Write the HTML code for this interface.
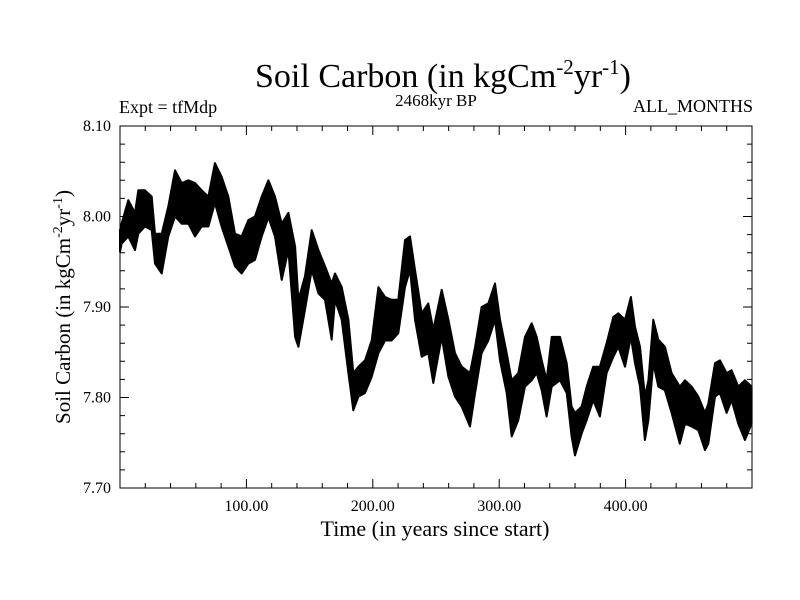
<!DOCTYPE html>
<html><head><meta charset="utf-8"><style>
body{margin:0;background:#fff}
svg{display:block;font-family:"Liberation Serif",serif}
</style></head><body>
<svg id="chart" width="800" height="600" viewBox="0 0 800 600">
<rect width="800" height="600" fill="#fff"/>
<text x="443" y="87" font-size="34" text-anchor="middle">Soil Carbon (in kgCm<tspan font-size="21" dy="-13">-2</tspan><tspan dy="13">yr</tspan><tspan font-size="21" dy="-13">-1</tspan><tspan dy="13">)</tspan></text>
<text x="119" y="113" font-size="18">Expt = tfMdp</text>
<text x="436" y="106" font-size="17" text-anchor="middle">2468kyr BP</text>
<text x="753" y="112" font-size="18" text-anchor="end">ALL_MONTHS</text>
<text x="435" y="536" font-size="22" text-anchor="middle">Time (in years since start)</text>
<text transform="translate(70,307) rotate(-90)" font-size="21" text-anchor="middle">Soil Carbon (in kgCm<tspan font-size="14" dy="-8">-2</tspan><tspan dy="8">yr</tspan><tspan font-size="14" dy="-8">-1</tspan><tspan dy="8">)</tspan></text>
<g id="ticks"></g>
<g id="series"></g>
<rect x="120" y="126" width="632" height="362" fill="none" stroke="#000" stroke-width="1"/>
</svg>
<script>
const years=[0,1.3,6.6,11.9,14.5,19.8,25.1,27.7,33,38.2,43.5,48.8,54.1,59.3,64.6,69.9,75.1,80.4,85.7,91,96.2,101.5,106.8,112.1,117.4,122.6,127.9,133.2,138.5,141.1,146.4,151.7,157,162.2,167.5,170.1,175.4,180.7,184.6,188.6,193.8,199.1,204.4,209.7,214.9,220.2,225.5,229.4,233.4,238.7,243.9,247.9,254.5,259.8,265,270.3,276.9,280.9,286.1,291.4,296.7,300.6,305.9,309.9,315.1,320.4,325.7,329.7,333.6,337.5,341.5,348.1,353.4,357.3,360,365.2,369.2,374.4,379.7,385,390.3,394.2,399.5,404.2,407.4,411.4,415.3,418,421.9,425.9,431.1,436.4,442.9,447,452.2,457.5,462.8,465.4,470.7,474.7,479.9,483.9,489.2,494.4,499.7];
const lowVals=[7.961,7.970,7.978,7.963,7.981,7.989,7.985,7.948,7.937,7.978,8.000,7.992,7.992,7.978,7.989,7.989,8.015,7.989,7.967,7.945,7.937,7.948,7.952,7.978,7.999,7.978,7.930,7.963,7.867,7.856,7.897,7.941,7.915,7.908,7.864,7.908,7.886,7.827,7.786,7.801,7.805,7.823,7.849,7.863,7.863,7.871,7.922,7.941,7.886,7.845,7.849,7.816,7.867,7.823,7.801,7.790,7.768,7.805,7.849,7.863,7.886,7.841,7.805,7.757,7.775,7.812,7.819,7.827,7.808,7.779,7.812,7.819,7.805,7.757,7.736,7.760,7.775,7.797,7.779,7.827,7.845,7.856,7.834,7.867,7.838,7.812,7.753,7.775,7.838,7.812,7.808,7.783,7.749,7.771,7.768,7.764,7.742,7.749,7.801,7.805,7.783,7.797,7.771,7.753,7.771];
const highVals=[7.985,7.992,8.018,8.004,8.029,8.029,8.022,7.981,7.981,8.011,8.051,8.037,8.040,8.037,8.029,8.022,8.059,8.044,8.022,7.981,7.978,7.996,8.000,8.022,8.040,8.022,7.992,8.004,7.967,7.908,7.934,7.985,7.963,7.945,7.926,7.937,7.922,7.886,7.827,7.834,7.841,7.863,7.922,7.911,7.908,7.908,7.974,7.978,7.941,7.893,7.904,7.875,7.919,7.886,7.849,7.834,7.827,7.856,7.900,7.904,7.926,7.886,7.849,7.819,7.827,7.867,7.882,7.867,7.841,7.819,7.867,7.867,7.838,7.790,7.783,7.790,7.812,7.834,7.834,7.860,7.889,7.893,7.886,7.911,7.878,7.856,7.801,7.819,7.886,7.864,7.856,7.827,7.812,7.819,7.812,7.801,7.783,7.793,7.838,7.841,7.827,7.830,7.812,7.819,7.812];
const yTickLabels=["7.70","7.80","7.90","8.00","8.10"];
const xTickLabels=["100.00","200.00","300.00","400.00"];

const X0=120,X1=752,Y0=488,Y1=126;
const xS=v=>X0+(v-0)/(500-0)*(X1-X0);
const yS=v=>Y0-(v-7.70)/(8.10-7.70)*(Y0-Y1);
const NS="http://www.w3.org/2000/svg";
const tg=document.getElementById('ticks');
function mk(tag,attrs,parent){const e=document.createElementNS(NS,tag);for(const k in attrs)e.setAttribute(k,attrs[k]);parent.appendChild(e);return e;}
let d="";
for(let i=0;i<=20;i++){const v=7.70+i*0.02,y=yS(v),L=i%5===0?9:5;
 d+=`M${X0} ${y}h${L}M${X1} ${y}h${-L}`;}
for(let i=0;i<=25;i++){const v=i*20,x=xS(v),L=i%5===0?9:5;
 d+=`M${x} ${Y0}v${-L}M${x} ${Y1}v${L}`;}
const tp=mk('path',{d:d,stroke:'#000','stroke-width':1,fill:'none'},tg);


yTickLabels.forEach(s=>{const t=mk('text',{x:111,y:yS(parseFloat(s))+5,'font-size':16,'text-anchor':'end'},tg);t.textContent=s;
 
 });
xTickLabels.forEach(s=>{const t=mk('text',{x:xS(parseFloat(s)),y:511,'font-size':16,'text-anchor':'middle'},tg);t.textContent=s;
 
 });
const sg=document.getElementById('series');
let pts=years.map((yr,i)=>`${xS(yr).toFixed(1)},${yS(highVals[i]).toFixed(1)}`);
for(let i=years.length-1;i>=0;i--)pts.push(`${xS(years[i]).toFixed(1)},${yS(lowVals[i]).toFixed(1)}`);
const band=mk('polygon',{points:pts.join(' '),fill:'#000',stroke:'#000','stroke-width':2,'stroke-linejoin':'round'},sg);


</script>
</body></html>
